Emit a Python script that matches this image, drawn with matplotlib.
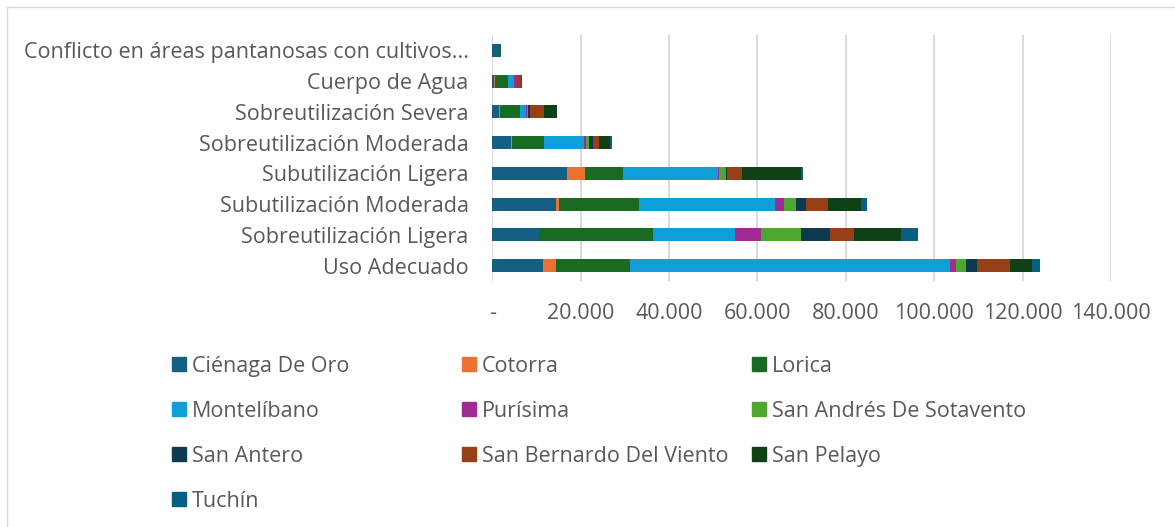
import numpy as np
import matplotlib
matplotlib.use('Agg')
import matplotlib.pyplot as plt
from matplotlib.patches import Rectangle
from matplotlib.lines import Line2D
from matplotlib.ticker import FuncFormatter

plt.rcParams['font.family'] = ['Open Sans', 'DejaVu Sans']

# categorías (de arriba hacia abajo)
categories = ['Conflicto en áreas pantanosas con cultivos...', 'Cuerpo de Agua',
              'Sobreutilización Severa', 'Sobreutilización Moderada',
              'Subutilización Ligera', 'Subutilización Moderada',
              'Sobreutilización Ligera', 'Uso Adecuado']

municipios = ['Ciénaga De Oro', 'Cotorra', 'Lorica', 'Montelíbano', 'Purísima',
              'San Andrés De Sotavento', 'San Antero', 'San Bernardo Del Viento',
              'San Pelayo', 'Tuchín']

cienaga = [1700, 400, 1500, 4200, 17000, 14500, 10500, 11500]
cotorra = [0, 200, 200, 200, 3950, 600, 0, 3000]
lorica = [200, 2900, 4500, 7200, 8600, 18000, 25900, 16700]
montelibano = [0, 1300, 1400, 9100, 21600, 30800, 18600, 72400]
purisima = [0, 800, 200, 500, 200, 2100, 5800, 1300]
san_andres = [0, 0, 200, 700, 1500, 2700, 9000, 2400]
san_antero = [0, 0, 500, 900, 200, 2300, 6700, 2400]
san_bernardo = [0, 900, 3200, 1400, 3500, 4900, 5300, 7400]
san_pelayo = [0, 0, 3000, 2400, 13300, 7500, 10600, 5000]
tuchin = [0, 150, 0, 500, 400, 1500, 4000, 1900]

series = [cienaga, cotorra, lorica, montelibano, purisima,
          san_andres, san_antero, san_bernardo, san_pelayo, tuchin]

colors = ['#156082', '#E97132', '#196B24', '#0F9ED5', '#A02B93',
          '#4EA72E', '#0D3A4E', '#984015', '#0F4016', '#095F80']

W, H = 1175, 527
FS = 15.5
fig = plt.figure(figsize=(W / 100, H / 100), dpi=100)
ax = fig.add_axes([492.3 / W, 1 - 281 / H, (1111 - 492.3) / W, (281 - 35) / H])

y = np.arange(len(categories))
left = np.zeros(len(categories))
for vals, col, name in zip(series, colors, municipios):
    ax.barh(y, vals, left=left, height=0.42, color=col, label=name, zorder=3)
    left += np.array(vals)

ax.set_ylim(len(categories) - 0.5, -0.5)
ax.set_xlim(0, 140000)
ax.set_xticks(np.arange(0, 140001, 20000))
ax.xaxis.set_major_formatter(FuncFormatter(
    lambda v, p: '-' if v == 0 else f'{v:,.0f}'.replace(',', '.')))
ax.set_yticks(y)
ax.set_yticklabels(categories, va='center_baseline')
ax.grid(axis='x', color='#D9D9D9', linewidth=1.3, zorder=0)
for s in ax.spines.values():
    s.set_visible(False)
ax.tick_params(axis='both', length=0, colors='#595959', labelsize=FS)
ax.tick_params(axis='y', pad=17)
ax.tick_params(axis='x', pad=16)

# leyenda en filas de tres, como en Excel
for i, (name, col) in enumerate(zip(municipios, colors)):
    r, c = divmod(i, 3)
    x0 = 172 + 290 * c
    yc = 364 + 45 * r
    fig.add_artist(Rectangle((x0 / W, 1 - (yc + 7) / H), 14 / W, 14 / H,
                             transform=fig.transFigure, color=col))
    fig.text((x0 + 20) / W, 1 - yc / H, name, va='center_baseline', ha='left',
             fontsize=FS, color='#595959')

# borde del área del gráfico
fig.add_artist(Line2D([7 / W, 7 / W], [0, 1 - 7 / H], transform=fig.transFigure,
                      color='#D9D9D9', linewidth=1))
fig.add_artist(Line2D([7 / W, 1], [1 - 7 / H, 1 - 7 / H], transform=fig.transFigure,
                      color='#D9D9D9', linewidth=1))

fig.savefig('out.png', dpi=100, facecolor='white')
